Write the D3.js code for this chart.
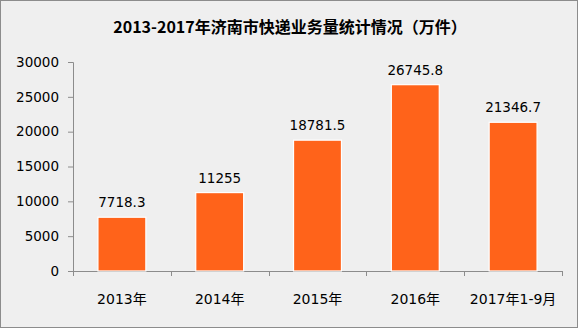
<!DOCTYPE html>
<html>
<head>
<meta charset="utf-8">
<script src="https://cdn.jsdelivr.net/npm/d3@7"></script>
<style>
  body { margin: 0; background: #fff; }
  .chart text { font-family: "DejaVu Sans", Verdana, sans-serif; }
</style>
</head>
<body>
<script>
var categories = ["2013年", "2014年", "2015年", "2016年", "2017年1-9月"];
var values = [7718.3, 11255, 18781.5, 26745.8, 21346.7];
var valueLabels = ["7718.3", "11255", "18781.5", "26745.8", "21346.7"];
var yTicks = [0, 5000, 10000, 15000, 20000, 25000, 30000];
var title = "2013-2017年济南市快递业务量统计情况（万件）";

var width = 578, height = 328;
var m = [62, 16, 57, 73]; // top right bottom left

var svg = d3.select("body").append("svg")
    .attr("width", width)
    .attr("height", height)
    .attr("class", "chart");

// background with border
svg.append("rect")
    .attr("x", 0.5).attr("y", 0.5)
    .attr("width", width - 1).attr("height", height - 1)
    .attr("fill", "#efefef")
    .attr("stroke", "#8c8c8c");

svg.append("text")
    .attr("x", 290)
    .attr("y", 33)
    .attr("text-anchor", "middle")
    .style("font-family", "'Noto Sans CJK SC', sans-serif")
    .style("font-weight", "bold")
    .style("font-size", "16px")
    .attr("fill", "#000")
    .text(title);

var x = d3.scaleBand()
    .domain(categories)
    .range([m[3], width - m[1]])
    .paddingInner(0)
    .paddingOuter(0);

var y = d3.scaleLinear()
    .domain([0, 30000])
    .range([height - m[2], m[0]]);

var g = svg.append("g");

// y axis
var yAxis = g.append("g")
    .attr("transform", "translate(" + m[3] + ",0)")
    .call(d3.axisLeft(y).tickValues(yTicks).tickSize(5).tickPadding(9).tickFormat(d3.format("d")));
yAxis.select(".domain").attr("stroke", "#8c8c8c");
yAxis.selectAll(".tick line").attr("stroke", "#8c8c8c");
yAxis.selectAll("text")
    .style("font-size", "13.5px")
    .attr("fill", "#000");

// x axis
var xAxis = g.append("g")
    .attr("transform", "translate(0," + y(0) + ")")
    .call(d3.axisBottom(x).tickSize(0).tickPadding(23));
xAxis.select(".domain").attr("stroke", "#8c8c8c");
xAxis.selectAll("text")
    .style("font-family", "'DejaVu Sans', 'Noto Sans CJK SC', sans-serif")
    .style("font-size", "14px")
    .attr("fill", "#000");

// band separator ticks
var edges = categories.map(function (d) { return x(d); }).concat([x.range()[1]]);
g.append("g").selectAll("line")
    .data(edges)
    .enter().append("line")
    .attr("x1", function (d) { return Math.round(d) + 0.5; })
    .attr("x2", function (d) { return Math.round(d) + 0.5; })
    .attr("y1", y(0))
    .attr("y2", y(0) + 5)
    .attr("stroke", "#8c8c8c");

// bars
var barW = x.bandwidth() * 0.49;
g.append("g").selectAll("rect")
    .data(values)
    .enter().append("rect")
    .attr("x", function (d, i) { return x(categories[i]) + (x.bandwidth() - barW) / 2; })
    .attr("y", function (d) { return y(d); })
    .attr("width", barW)
    .attr("height", function (d) { return y(0) - y(d); })
    .attr("fill", "#ff631a")
    .attr("stroke", "#ffffff")
    .attr("stroke-width", 1.2);

// value labels
g.append("g").selectAll("text")
    .data(values)
    .enter().append("text")
    .attr("x", function (d, i) { return x(categories[i]) + x.bandwidth() / 2; })
    .attr("y", function (d) { return y(d) - 10; })
    .attr("text-anchor", "middle")
    .style("font-size", "13.5px")
    .attr("fill", "#000")
    .text(function (d, i) { return valueLabels[i]; });
</script>
</body>
</html>
